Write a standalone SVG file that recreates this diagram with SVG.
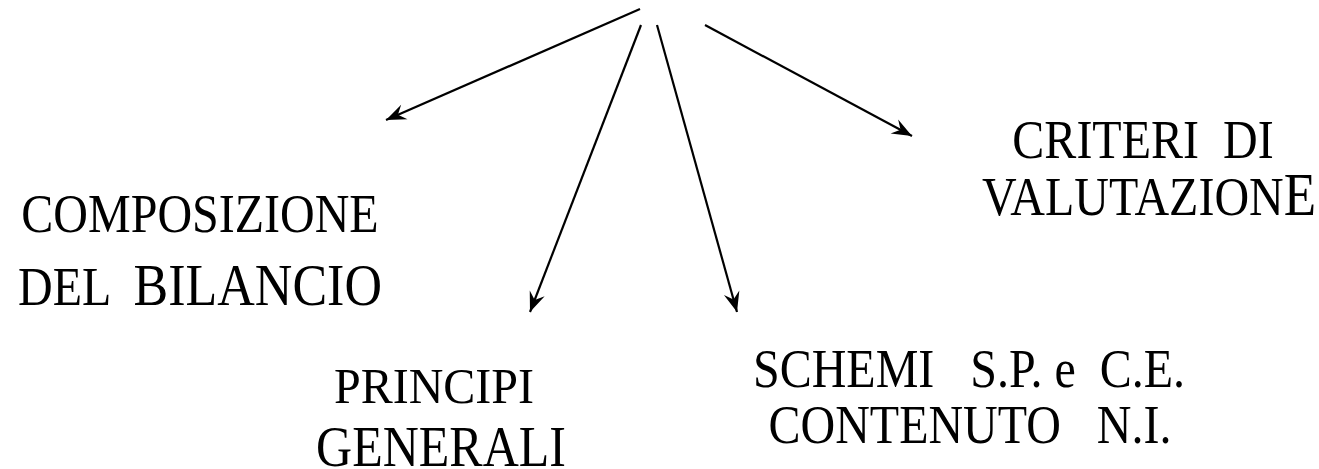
<svg xmlns="http://www.w3.org/2000/svg" width="1319" height="469" viewBox="0 0 1319 469">
  <style>
    .lbl { font-family: "Liberation Serif", "Times New Roman", serif; font-size: 48px; fill: #000; text-anchor: middle; white-space: pre; }
    .conn { stroke: #000; stroke-width: 2.2; fill: none; marker-end: url(#arrow); }
  </style>
  <defs>
    <marker id="arrow" markerUnits="userSpaceOnUse" markerWidth="24" markerHeight="18" viewBox="-21 -9 23 18" refX="0" refY="0" orient="auto">
      <path d="M0,0 L-20,-8 L-13,0 L-20,8 Z" fill="#000"/>
    </marker>
  </defs>
  <rect width="1319" height="469" fill="#fff"/>

  <g id="connectors">
    <line class="conn" x1="640" y1="9" x2="386" y2="120"/>
    <line class="conn" x1="641" y1="25" x2="530" y2="312"/>
    <line class="conn" x1="657" y1="25" x2="737" y2="312"/>
    <line class="conn" x1="705" y1="25" x2="912" y2="136"/>
  </g>

  <g id="composizione">
    <text class="lbl" transform="translate(200,232) scale(1,1.15)">COMPOSIZIONE</text>
    <text class="lbl" transform="translate(200,305) scale(1,1.15)">DEL  <tspan style="font-size:52px">BILANCIO</tspan></text>
  </g>

  <g id="principi">
    <text class="lbl" transform="translate(434,403) scale(1,1.05)">PRINCIPI</text>
    <text class="lbl" style="font-size:50px" transform="translate(441,466) scale(1,1.12)">GENERALI</text>
  </g>

  <g id="schemi">
    <text class="lbl" transform="translate(969,387) scale(1,1.15)">SCHEMI   S.P. e  C.E.</text>
    <text class="lbl" transform="translate(970,443) scale(1,1.15)">CONTENUTO   N.I.</text>
  </g>

  <g id="criteri">
    <text class="lbl" transform="translate(1143,158) scale(1,1.15)">CRITERI  DI</text>
    <text class="lbl" transform="translate(1149,215) scale(1,1.15)">VALUTAZION<tspan style="font-size:53px">E</tspan></text>
  </g>
</svg>
